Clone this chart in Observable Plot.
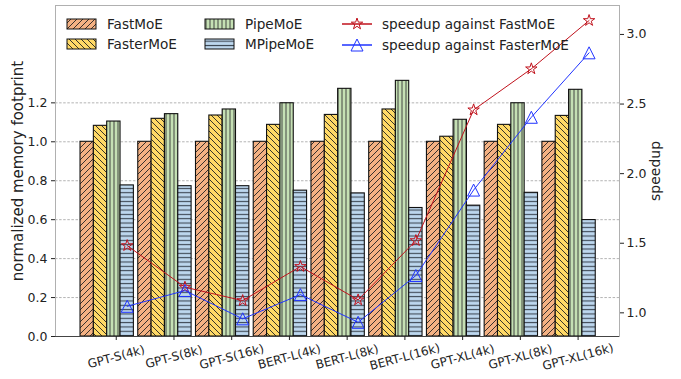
<!DOCTYPE html>
<html><head><meta charset="utf-8">
<script src="https://cdn.jsdelivr.net/npm/d3@7"></script>
<script src="https://cdn.jsdelivr.net/npm/@observablehq/plot@0.6"></script>
<style>
body{margin:0;background:#fff}
#wrap{position:relative;width:681px;height:379px}
#wrap svg{position:absolute;left:0;top:0}
</style></head><body><div id="wrap"></div>
<script>
const categories = ["GPT-S(4k)","GPT-S(8k)","GPT-S(16k)","BERT-L(4k)","BERT-L(8k)","BERT-L(16k)","GPT-XL(4k)","GPT-XL(8k)","GPT-XL(16k)"];
const seriesNames = ["FastMoE","FasterMoE","PipeMoE","MPipeMoE"];
const fastMoE   = [1,1,1,1,1,1,1,1,1];
const fasterMoE = [1.082,1.118,1.135,1.087,1.138,1.166,1.026,1.087,1.133];
const pipeMoE   = [1.104,1.142,1.166,1.198,1.272,1.313,1.113,1.198,1.267];
const mpipeMoE  = [0.776,0.772,0.772,0.749,0.735,0.660,0.672,0.738,0.598];
const speedupVsFastMoE   = [1.483,1.184,1.088,1.333,1.093,1.519,2.458,2.753,3.10];
const speedupVsFasterMoE = [1.047,1.160,0.957,1.131,0.932,1.268,1.882,2.405,2.868];
const lineNames = ["speedup against FastMoE","speedup against FasterMoE"];
const leftTicks = [0,0.2,0.4,0.6,0.8,1.0,1.2];
const rightTicks = [1.0,1.5,2.0,2.5,3.0];

const W = 681, H = 379;
const M = {marginTop:5, marginRight:62, marginBottom:43, marginLeft:55};
const xDomain = [-1.052, 8.717];
const barW = 0.231, offsets = [-0.503,-0.272,-0.041,0.19];
const fills = ["url(#h-fast)","url(#h-faster)","url(#h-pipe)","url(#h-mpipe)"];
const RED = "#c0121c", BLUE = "#1f33ff";
const font = "'DejaVu Sans', sans-serif";

const bars = [];
[fastMoE,fasterMoE,pipeMoE,mpipeMoE].forEach((vals,k)=>vals.forEach((v,i)=>bars.push({i,k,v,fill:fills[k]})));
const ptsFast = speedupVsFastMoE.map((s,i)=>({x:i+offsets[3], s}));
const ptsFaster = speedupVsFasterMoE.map((s,i)=>({x:i+offsets[3], s}));

const starSym = {draw(ctx,size){const r=Math.sqrt(size/Math.PI), ri=r*0.382;
  for(let k=0;k<10;k++){const a=-Math.PI/2+k*Math.PI/5, rr=k%2?ri:r; const px=rr*Math.cos(a), py=rr*Math.sin(a); k?ctx.lineTo(px,py):ctx.moveTo(px,py);} ctx.closePath();}};
const triSym = {draw(ctx,size){const r=Math.sqrt(size/Math.PI); ctx.moveTo(0,-r); ctx.lineTo(r,r); ctx.lineTo(-r,r); ctx.closePath();}};

const plot1 = Plot.plot({
  width:W, height:H, ...M,
  x:{type:"linear", domain:xDomain},
  y:{domain:[0,1.7]},
  color:{type:"identity"},
  style:{fontFamily:font, background:"#fff", color:"#222"},
  marks:[
    Plot.ruleY(leftTicks.filter(t=>t>0), {stroke:"#a0a0a0", strokeDasharray:"2.5,1.6", strokeWidth:0.8}),
    Plot.rectY(bars, {x1:d=>d.i+offsets[d.k]-barW/2, x2:d=>d.i+offsets[d.k]+barW/2, y1:0, y2:"v", fill:"fill", stroke:"#111", strokeWidth:1.1}),
    Plot.frame({stroke:"#b0b0b0"}),
    Plot.ruleY([0], {stroke:"#444"}),
    Plot.axisY({ticks:leftTicks, tickFormat:".1f", tickSize:4, tickPadding:4, fontSize:12.5, label:null}),
    Plot.axisX({ticks:d3.range(categories.length), tickFormat:()=>"", tickSize:4, label:null}),
    Plot.text(categories, {x:(d,i)=>i, frameAnchor:"bottom", dy:20.5, rotate:-15, textAnchor:"middle", lineAnchor:"middle", fontSize:12, fill:"#222"}),
    Plot.text(["normalized memory footprint"], {frameAnchor:"left", dx:-37, rotate:-90, textAnchor:"middle", lineAnchor:"middle", fontSize:15, fill:"#222"})
  ]
});

const plot2 = Plot.plot({
  width:W, height:H, ...M,
  x:{type:"linear", domain:xDomain, axis:null},
  y:{domain:[0.830,3.208]},
  style:{fontFamily:font, background:"transparent", color:"#222"},
  marks:[
    Plot.line(ptsFast, {x:"x", y:"s", stroke:RED, strokeWidth:1}),
    Plot.dot(ptsFast, {x:"x", y:"s", symbol:starSym, r:6, stroke:RED, fill:"none", strokeWidth:1}),
    Plot.line(ptsFaster, {x:"x", y:"s", stroke:BLUE, strokeWidth:1}),
    Plot.dot(ptsFaster, {x:"x", y:"s", symbol:triSym, r:6, stroke:BLUE, fill:"none", strokeWidth:1}),
    Plot.axisY({anchor:"right", ticks:rightTicks, tickFormat:".1f", tickSize:4, tickPadding:3, fontSize:12.5, label:null}),
    Plot.text(["speedup"], {frameAnchor:"right", dx:36, rotate:-90, textAnchor:"middle", lineAnchor:"middle", fontSize:14, fill:"#222"})
  ]
});

const wrap = document.getElementById("wrap");
wrap.appendChild(plot1);
wrap.appendChild(plot2);

// hatch patterns
const defs = d3.select(plot1).insert("defs", ":first-child");
function pat(id, color, w, h, pathD, sw, sc){
  const p = defs.append("pattern").attr("id", id).attr("patternUnits","userSpaceOnUse").attr("width", w).attr("height", h);
  p.append("rect").attr("width", w).attr("height", h).attr("fill", color);
  p.append("path").attr("d", pathD).attr("stroke", sc).attr("stroke-width", sw).attr("fill","none");
}
const s = 6;
pat("h-fast", "#f4b183", s, s, `M0,${s}L${s},0M-1,1L1,-1M${s-1},${s+1}L${s+1},${s-1}`, 0.9, "#222");
pat("h-faster", "#ffd966", s, s, `M0,0L${s},${s}M-1,${s-1}L1,${s+1}M${s-1},-1L${s+1},1`, 0.9, "#222");
pat("h-pipe", "#c5e0b4", 4, 4, `M2,0L2,4`, 0.9, "#333");
pat("h-mpipe", "#bdd7ee", 4.33, 4.33, `M0,2.2L4.33,2.2`, 1.1, "#3a4450");

// legend
const lg = d3.select(plot2).append("g").attr("font-family", font).attr("font-size", 13.6).attr("fill", "#222").attr("text-anchor", "start");
const barLegend = [
  {name:seriesNames[0], fill:fills[0], x:67, y:24},
  {name:seriesNames[1], fill:fills[1], x:67, y:44},
  {name:seriesNames[2], fill:fills[2], x:205, y:24},
  {name:seriesNames[3], fill:fills[3], x:205, y:44}
];
barLegend.forEach(e=>{
  lg.append("rect").attr("x", e.x).attr("y", e.y-5).attr("width", 29).attr("height", 10).attr("fill", e.fill).attr("stroke", "#111").attr("stroke-width", 1);
  lg.append("text").attr("x", e.x+40).attr("y", e.y).attr("dy", "0.35em").text(e.name);
});
const lineLegend = [
  {name:lineNames[0], color:RED, sym:starSym, y:24},
  {name:lineNames[1], color:BLUE, sym:triSym, y:45}
];
lineLegend.forEach(e=>{
  lg.append("line").attr("x1", 342).attr("x2", 372).attr("y1", e.y).attr("y2", e.y).attr("stroke", e.color).attr("stroke-width", 1.5);
  const path = d3.path(); e.sym.draw(path, 6*6*Math.PI);
  lg.append("path").attr("d", path.toString()).attr("transform", `translate(357,${e.y})`).attr("fill", "none").attr("stroke", e.color).attr("stroke-width", 1);
  lg.append("text").attr("x", 382).attr("y", e.y).attr("dy", "0.35em").text(e.name);
});
</script></body></html>
